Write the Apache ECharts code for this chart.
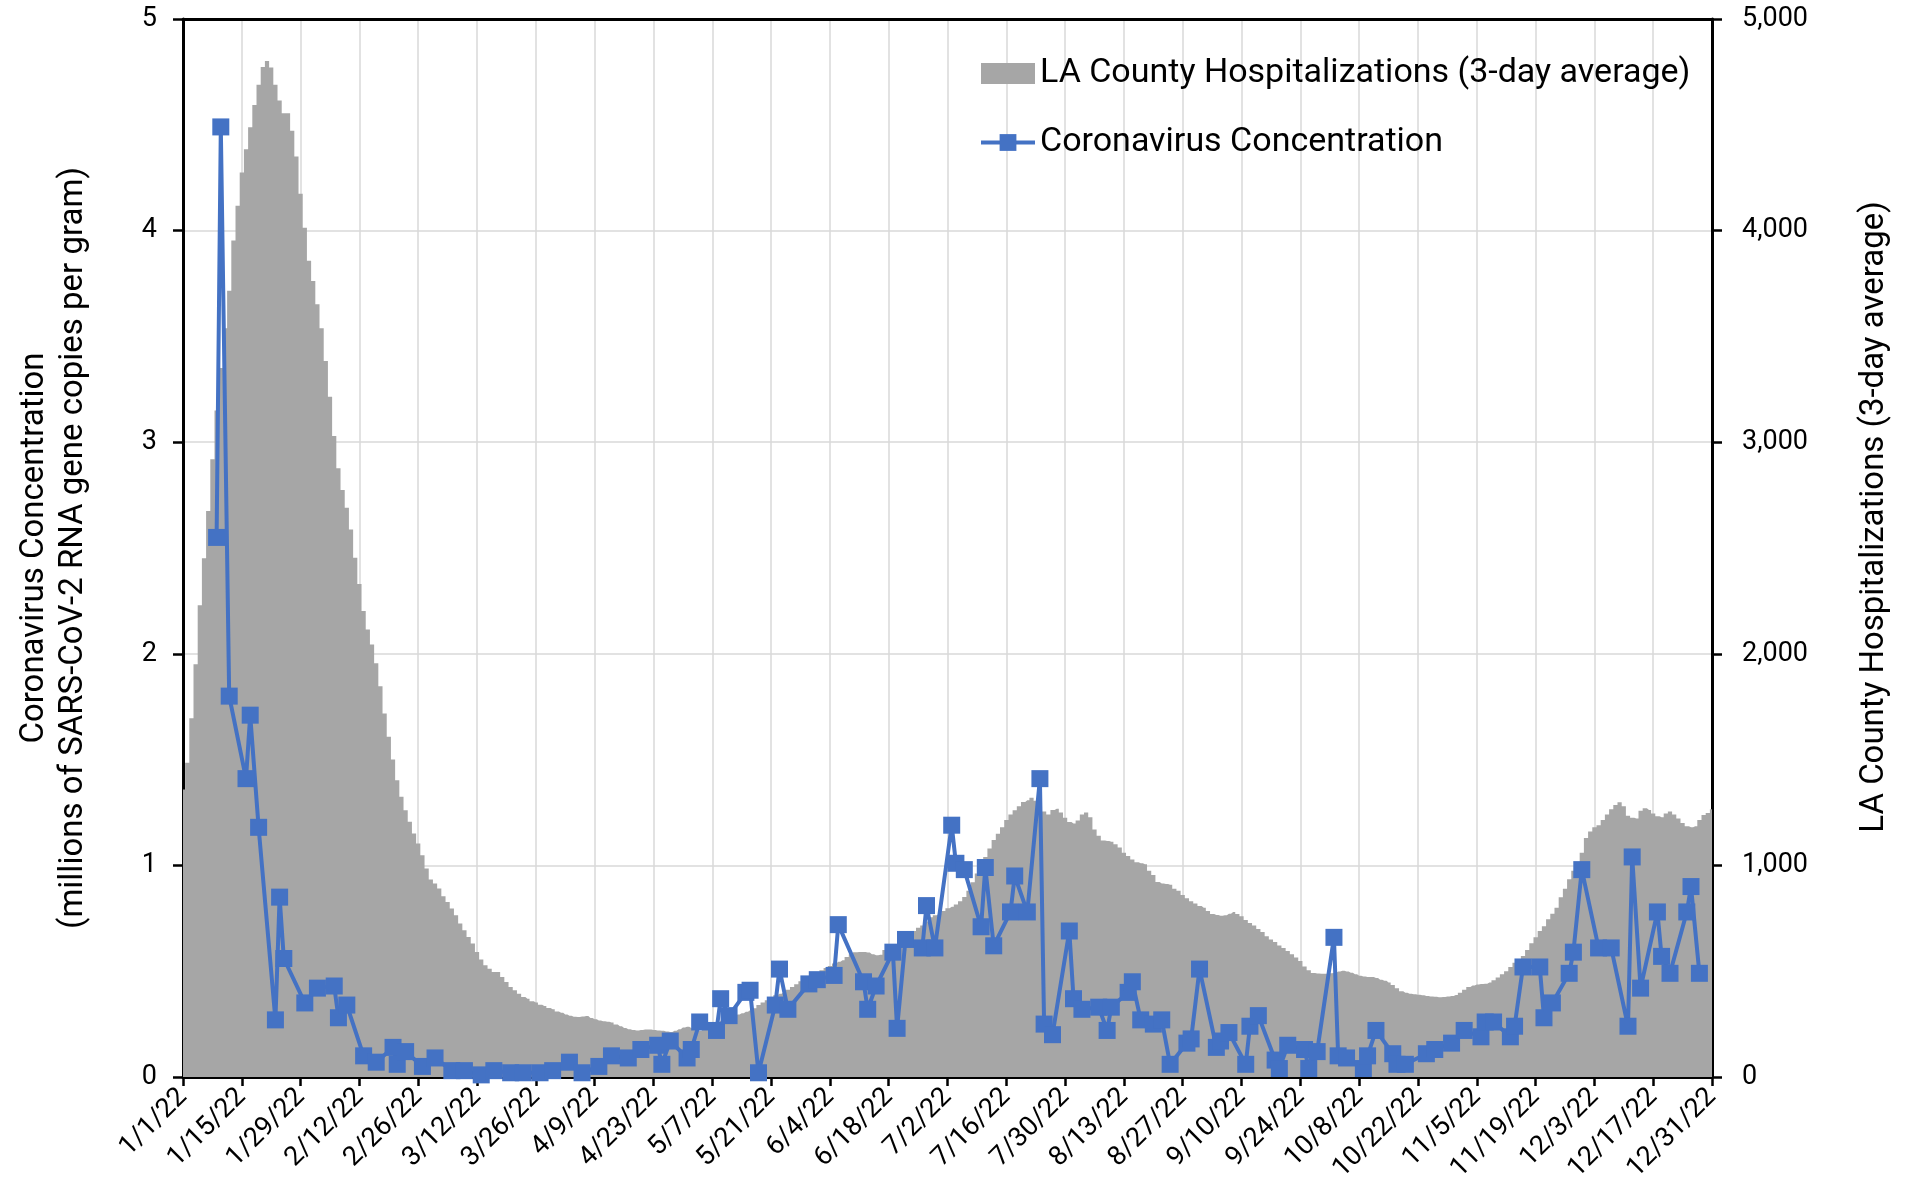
<!DOCTYPE html>
<html>
<head lang="en">
    <meta charset="UTF-8">
    <title>LA County | Coronavirus concentration vs hospitalizations</title>
    <script src="https://cdn.jsdelivr.net/npm/echarts@6/dist/echarts.min.js"></script>
    <style>
        html, body { margin: 0; padding: 0; background: #fff; }
        #chart { width: 1915px; height: 1195px; }
    </style>
</head>
<body>
<div id="chart"></div>
<script>
    // daily categories 1/1/22 .. 12/31/22
    var monthDays = [31, 28, 31, 30, 31, 30, 31, 31, 30, 31, 30, 31];
    var days = [];
    for (var m = 0; m < 12; m++) {
        for (var d = 1; d <= monthDays[m]; d++) {
            days.push((m + 1) + '/' + d + '/22');
        }
    }

    // LA County hospitalizations (3-day average), one value per day, by month
    var hospJan = [1359,1485,1695,1951,2230,2451,2675,2919,3150,3351,3539,3716,3953,4117,4274,4385,4489,4593,4689,4773,4802,4771,4689,4615,4555,4555,4472,4350,4174,4014,3857];
    var hospFeb = [3762,3652,3539,3384,3215,3029,2877,2774,2690,2588,2454,2330,2202,2115,2044,1955,1847,1718,1608,1501,1403,1324,1261,1206,1151,1104,1048,985];
    var hospMar = [933,914,891,854,827,796,765,725,694,662,631,591,555,528,512,496,496,473,449,425,410,394,378,370,358,352,342,336,326,320,310];
    var hospApr = [304,295,289,285,283,286,288,279,273,267,263,261,258,248,240,232,226,222,220,222,224,225,222,220,218,215,213,218,226,234];
    var hospMay = [238,232,222,218,228,238,248,257,266,274,281,288,295,301,308,315,325,340,352,363,375,386,394,400,412,425,438,452,465,473,482];
    var hospJun = [494,505,515,525,536,545,552,567,580,590,591,591,588,580,575,578,600,607,615,625,640,655,668,690,705,716,735,755,765,773];
    var hospJul = [785,798,804,815,830,851,880,920,962,1000,1040,1080,1120,1150,1180,1214,1240,1261,1280,1300,1308,1320,1305,1280,1255,1240,1262,1268,1250,1225,1205];
    var hospAug = [1198,1212,1240,1250,1228,1170,1140,1118,1115,1112,1100,1085,1060,1045,1028,1015,1010,1005,975,955,922,915,912,908,890,880,860,845,830,820,808];
    var hospSep = [800,785,770,766,762,765,772,780,770,760,742,728,716,700,685,665,650,638,622,610,595,580,565,548,522,505,492,489,488,488];
    var hospOct = [490,492,498,502,499,493,486,478,475,473,472,468,460,455,447,435,420,405,398,393,391,389,386,383,381,379,377,378,380,383,388];
    var hospNov = [398,412,425,433,437,440,441,447,457,470,485,500,520,540,556,572,600,632,660,690,712,745,772,800,850,890,935,975,1010,1060];
    var hospDec = [1130,1160,1180,1190,1215,1240,1265,1285,1298,1280,1235,1225,1222,1258,1270,1262,1245,1232,1228,1245,1255,1240,1222,1200,1185,1180,1185,1215,1238,1248,1265];

    // coronavirus concentration samples (millions of gene copies per gram)
    var concDates = ['1/9/22','1/10/22','1/12/22','1/16/22','1/17/22','1/19/22','1/23/22','1/24/22','1/25/22','1/30/22',
        '2/2/22','2/6/22','2/7/22','2/9/22','2/13/22','2/16/22','2/20/22','2/21/22','2/23/22','2/27/22',
        '3/2/22','3/6/22','3/9/22','3/13/22','3/16/22','3/20/22','3/23/22','3/27/22','3/30/22',
        '4/3/22','4/6/22','4/10/22','4/13/22','4/17/22','4/20/22','4/24/22','4/25/22','4/27/22',
        '5/1/22','5/2/22','5/4/22','5/8/22','5/9/22','5/11/22','5/15/22','5/16/22','5/18/22','5/22/22','5/23/22','5/25/22','5/30/22',
        '6/1/22','6/5/22','6/6/22','6/12/22','6/13/22','6/15/22','6/19/22','6/20/22','6/22/22','6/26/22','6/27/22','6/29/22',
        '7/3/22','7/4/22','7/6/22','7/10/22','7/11/22','7/13/22','7/17/22','7/18/22','7/21/22','7/24/22','7/25/22','7/27/22','7/31/22',
        '8/1/22','8/3/22','8/7/22','8/9/22','8/10/22','8/14/22','8/15/22','8/17/22','8/20/22','8/22/22','8/24/22','8/28/22','8/29/22','8/31/22',
        '9/4/22','9/5/22','9/7/22','9/11/22','9/12/22','9/14/22','9/18/22','9/19/22','9/21/22','9/25/22','9/26/22','9/28/22',
        '10/2/22','10/3/22','10/5/22','10/9/22','10/10/22','10/12/22','10/16/22','10/17/22','10/19/22','10/24/22','10/26/22','10/30/22',
        '11/2/22','11/6/22','11/7/22','11/9/22','11/13/22','11/14/22','11/16/22','11/20/22','11/21/22','11/23/22','11/27/22','11/28/22','11/30/22',
        '12/4/22','12/7/22','12/11/22','12/12/22','12/14/22','12/18/22','12/19/22','12/21/22','12/25/22','12/26/22','12/28/22'];
    var concValues = [2.55,4.49,1.80,1.41,1.71,1.18,0.27,0.85,0.56,0.35,
        0.42,0.43,0.28,0.34,0.10,0.07,0.14,0.06,0.12,0.05,
        0.09,0.03,0.03,0.01,0.03,0.02,0.02,0.02,0.03,
        0.07,0.02,0.05,0.10,0.09,0.13,0.15,0.06,0.17,
        0.09,0.13,0.26,0.22,0.37,0.29,0.40,0.41,0.02,0.34,0.51,0.32,0.44,
        0.46,0.48,0.72,0.45,0.32,0.43,0.59,0.23,0.65,0.61,0.81,0.61,
        1.19,1.01,0.98,0.71,0.99,0.62,0.78,0.95,0.78,1.41,0.25,0.20,0.69,
        0.37,0.32,0.33,0.22,0.33,0.40,0.45,0.27,0.25,0.27,0.06,0.16,0.18,0.51,
        0.14,0.17,0.21,0.06,0.24,0.29,0.08,0.04,0.15,0.13,0.04,0.12,
        0.66,0.10,0.09,0.04,0.10,0.22,0.11,0.06,0.06,0.11,0.13,0.16,
        0.22,0.19,0.26,0.26,0.19,0.24,0.52,0.52,0.28,0.35,0.49,0.59,0.98,
        0.61,0.61,0.24,1.04,0.42,0.78,0.57,0.49,0.78,0.90,0.49];

    var leftTicks = [0, 5, 1];       // min, max, step
    var rightTicks = [0, 5000, 1000];

    var hosp = [].concat(hospJan, hospFeb, hospMar, hospApr, hospMay, hospJun,
        hospJul, hospAug, hospSep, hospOct, hospNov, hospDec);
    var conc = concDates.map(function (dt, i) { return [dt, concValues[i]]; });

    var font = 'Roboto';
    var hospName = 'LA County Hospitalizations (3-day average)';
    var concName = 'Coronavirus Concentration';
    var chart = echarts.init(document.getElementById('chart'));

    var option = {
        animation: false,
        backgroundColor: '#fff',
        textStyle: { fontFamily: font, color: '#000' },
        grid: { left: 183, right: 203, top: 19, bottom: 118 },
        legend: {
            orient: 'vertical',
            left: 974, top: 48,
            itemWidth: 54, itemHeight: 21, itemGap: 28,
            textStyle: { fontFamily: font, fontSize: 34, color: '#000', lineHeight: 41 },
            data: [
                { name: hospName, icon: 'rect' },
                { name: concName, lineStyle: { width: 4 } }
            ]
        },
        xAxis: [{
            type: 'category',
            data: days,
            boundaryGap: false,
            axisLine: { lineStyle: { color: '#000', width: 3 } },
            axisTick: { interval: 13, length: 9, lineStyle: { color: '#000', width: 2.5 } },
            axisLabel: {
                interval: 13, rotate: 45, margin: 16,
                fontFamily: font, fontSize: 27, color: '#000'
            },
            splitLine: { show: true, interval: 13, lineStyle: { color: '#d9d9d9', width: 1.5 } }
        }, {
            // top frame line
            type: 'category',
            data: days,
            boundaryGap: false,
            position: 'top',
            z: 10,
            axisLine: { onZero: false, lineStyle: { color: '#000', width: 3 } },
            axisTick: { show: false },
            axisLabel: { show: false },
            splitLine: { show: false }
        }],
        yAxis: [{
            type: 'value',
            min: leftTicks[0], max: leftTicks[1], interval: leftTicks[2],
            name: 'Coronavirus Concentration\n(millions of SARS-CoV-2 RNA gene copies per gram)',
            nameLocation: 'middle', nameGap: 90, nameRotate: 90,
            nameTextStyle: { fontFamily: font, fontSize: 33, color: '#000', lineHeight: 39 },
            axisLine: { show: true, lineStyle: { color: '#000', width: 3 } },
            axisTick: { show: true, length: 10, lineStyle: { color: '#000', width: 2.5 } },
            axisLabel: { margin: 26, fontFamily: font, fontSize: 27, color: '#000' },
            splitLine: { show: true, lineStyle: { color: '#d9d9d9', width: 1.5 } }
        }, {
            type: 'value',
            position: 'right',
            min: rightTicks[0], max: rightTicks[1], interval: rightTicks[2],
            name: hospName,
            nameLocation: 'middle', nameGap: 146, nameRotate: 90,
            nameTextStyle: { fontFamily: font, fontSize: 33, color: '#000', padding: [0, 0, 0, 62] },
            axisLine: { show: true, lineStyle: { color: '#000', width: 3 } },
            axisTick: { show: true, length: 10, lineStyle: { color: '#000', width: 2.5 } },
            axisLabel: {
                margin: 30, fontFamily: font, fontSize: 27, color: '#000',
                formatter: function (v) { return v.toLocaleString('en-US'); }
            },
            splitLine: { show: false }
        }],
        series: [{
            name: hospName,
            type: 'line',
            step: 'middle',
            yAxisIndex: 1,
            data: hosp,
            showSymbol: false,
            lineStyle: { width: 0, color: '#a6a6a6' },
            itemStyle: { color: '#a6a6a6' },
            areaStyle: { color: '#a6a6a6', opacity: 1 },
            z: 1
        }, {
            name: concName,
            type: 'line',
            yAxisIndex: 0,
            data: conc,
            symbol: 'rect',
            symbolSize: 17,
            showSymbol: true,
            showAllSymbol: true,
            lineStyle: { color: '#4472c4', width: 4 },
            itemStyle: { color: '#4472c4' },
            z: 5
        }]
    };

    chart.setOption(option);
</script>
</body>
</html>
